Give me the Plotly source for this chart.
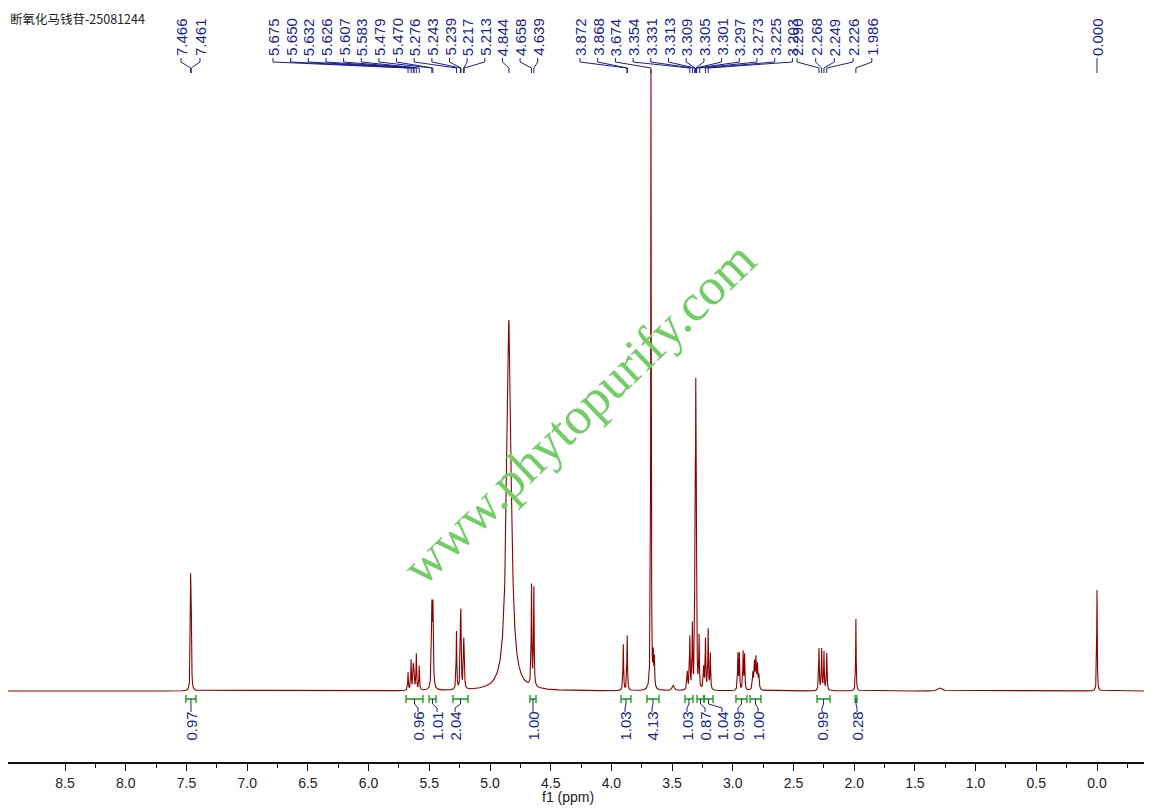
import numpy as np
import plotly.graph_objects as go

# ---------------- data ----------------
title_text = "断氧化马钱苷-25081244"

# spectrum lines: chemical shift (ppm), height (a.u.), half width (ppm)
peak_ppm = [7.466, 7.461,
            5.675, 5.650, 5.632, 5.626, 5.607, 5.583,
            5.479, 5.470,
            5.276, 5.243, 5.239, 5.217, 5.213,
            4.844,
            4.658, 4.639,
            3.902, 3.870,
            3.674, 3.655, 3.646,
            3.49,
            3.375, 3.354, 3.333, 3.313, 3.309, 3.305, 3.301, 3.297,
            3.278, 3.240, 3.225, 3.203, 3.185,
            2.958, 2.946, 2.915, 2.903,
            2.835, 2.822, 2.810, 2.797, 2.785,
            2.290, 2.268, 2.249, 2.226,
            1.986, 1.29, 0.000]
peak_height = [98, 98,
               18, 30, 22, 20, 36, 24,
               78, 78,
               58, 57, 57, 36, 36,
               371,
               100, 98,
               46, 55,
               620, 30, 28,
               5,
               18, 52, 64, 78, 155, 240, 155, 78,
               52, 22, 50, 60, 36,
               36, 36, 38, 35,
               16, 26, 30, 24, 14,
               42, 41, 38, 37,
               72, 3, 101]
peak_hwhm = [0.0025, 0.0025,
             0.003, 0.003, 0.003, 0.003, 0.003, 0.003,
             0.004, 0.004,
             0.003, 0.003, 0.003, 0.003, 0.003,
             0.022,
             0.003, 0.003,
             0.003, 0.003,
             0.0025, 0.003, 0.003,
             0.01,
             0.004, 0.003, 0.003, 0.002, 0.002, 0.002, 0.002, 0.002,
             0.003, 0.004, 0.003, 0.003, 0.003,
             0.003, 0.003, 0.003, 0.003,
             0.004, 0.004, 0.004, 0.004, 0.004,
             0.003, 0.003, 0.003, 0.003,
             0.0025, 0.02, 0.0025]

# peak picking labels (ppm)
label_ppm = [7.466, 7.461,
             5.675, 5.650, 5.632, 5.626, 5.607, 5.583, 5.479, 5.470,
             5.276, 5.243, 5.239, 5.217, 5.213, 4.844, 4.658, 4.639,
             3.872, 3.868, 3.674, 3.354, 3.331, 3.313, 3.309, 3.305,
             3.301, 3.297, 3.273, 3.225, 3.203,
             2.290, 2.268, 2.249, 2.226, 1.986,
             0.000]

# integrals
integral_start = [7.505, 5.692, 5.502, 5.305, 4.671, 3.921, 3.707, 3.394,
                  3.295, 3.237, 2.974, 2.858, 2.306, 1.993]
integral_end = [7.422, 5.552, 5.445, 5.181, 4.621, 3.839, 3.608, 3.328,
                3.237, 3.163, 2.883, 2.768, 2.199, 1.977]
integral_value = ["0.97", "0.96", "1.01", "2.04", "1.00", "1.03", "4.13",
                  "1.03", "0.87", "1.04", "0.99", "1.00", "0.99", "0.28"]

tick_vals = [8.5, 8.0, 7.5, 7.0, 6.5, 6.0, 5.5, 5.0, 4.5, 4.0, 3.5, 3.0,
             2.5, 2.0, 1.5, 1.0, 0.5, 0.0]
tick_text = ["8.5", "8.0", "7.5", "7.0", "6.5", "6.0", "5.5", "5.0", "4.5",
             "4.0", "3.5", "3.0", "2.5", "2.0", "1.5", "1.0", "0.5", "0.0"]

# ---------------- layout helpers (reference-pixel based) ----------------
OFF = 8                      # page body margin in browser
W, H = 1152 - 2 * OFF, 811 - OFF
PX0 = 1097.0                 # reference column of 0 ppm
PXPP = 121.4                 # pixels per ppm
PL, PR = 8, 1144             # plot area left/right (reference px)
PT, AXIS_PX = 8, 762         # plot area top / axis line (reference px)
BASE_PX = 691                # baseline row (reference px)


def px2ppm(px):
    return (PX0 - px) / PXPP


def yd(py):
    return BASE_PX - py


def xpaper(px):
    return (px - PL) / (PR - PL)


def ypaper(py):
    return (AXIS_PX - py) / (AXIS_PX - PT)


# label layout (reference pixel columns)
label_px = ([181, 200]
            + [273 + 17.65 * i for i in range(16)]
            + [580 + 17.7 * i for i in range(13)]
            + [797 + 18.7 * i for i in range(5)]
            + [1097])
int_label_px = [191, 418, 437, 455, 533, 625, 652, 687, 705, 722, 738, 758,
                822, 857]

# ---------------- spectrum ----------------
x = np.arange(-0.40, 9.0, 0.0005)
y = np.zeros_like(x)
for p, h, w in zip(peak_ppm, peak_height, peak_hwhm):
    y += h / (1.0 + ((x - p) / w) ** 2)

fig = go.Figure()
fig.add_trace(go.Scatter(x=np.round(x, 4), y=np.round(y, 2), mode="lines",
                         line=dict(color="#8b0000", width=1.1),
                         hoverinfo="skip", showlegend=False))

shapes = []
annotations = []
NAVY = "#1e1e8c"
GREEN = "#139a13"

# peak labels + tree lines
for v, lp in zip(label_ppm, label_px):
    xl = px2ppm(lp)
    annotations.append(dict(x=xl, y=yd(57), xref="x", yref="y",
                            text=f"{v:.3f}", textangle=-90, showarrow=False,
                            xanchor="center", yanchor="bottom",
                            font=dict(family="Liberation Sans", size=15,
                                      color=NAVY),
                            borderpad=0))
    path = (f"M {xl},{yd(58)} L {xl},{yd(62)} L {v},{yd(68)} "
            f"L {v},{yd(73)}")
    shapes.append(dict(type="path", path=path, xref="x", yref="y",
                       line=dict(color=NAVY, width=1)))

# integrals
for s, e, val, lp in zip(integral_start, integral_end, integral_value,
                         int_label_px):
    gp = (f"M {s},{yd(695)} L {s},{yd(703)} M {s},{yd(699)} L {e},{yd(699)} "
          f"M {e},{yd(695)} L {e},{yd(703)}")
    shapes.append(dict(type="path", path=gp, xref="x", yref="y",
                       line=dict(color=GREEN, width=1.3)))
    xc = (s + e) / 2
    xl = px2ppm(lp)
    cp = (f"M {xc},{yd(699)} L {xc},{yd(704)} L {xl},{yd(708)} "
          f"L {xl},{yd(712)}")
    shapes.append(dict(type="path", path=cp, xref="x", yref="y",
                       line=dict(color=NAVY, width=1)))
    annotations.append(dict(x=xl, y=yd(711), xref="x", yref="y", text=val,
                            textangle=-90, showarrow=False, xanchor="center",
                            yanchor="top", borderpad=0,
                            font=dict(family="Liberation Sans", size=15,
                                      color=NAVY)))

# watermark
annotations.append(dict(x=px2ppm(578), y=yd(413), xref="x", yref="y",
                        text="www.phytopurify.com", textangle=-44,
                        showarrow=False, xanchor="center", yanchor="middle",
                        font=dict(family="Liberation Serif", size=52,
                                  color="rgb(112,206,100)")))

# title
annotations.append(dict(x=xpaper(8), y=ypaper(18), xref="paper", yref="paper",
                        text=title_text, showarrow=False, xanchor="left",
                        yanchor="middle",
                        font=dict(family="Noto Sans CJK SC", size=12.5,
                                  color="#222222")))

# axis title
annotations.append(dict(x=xpaper(568), y=ypaper(797),
                        xref="paper", yref="paper", text="f1 (ppm)",
                        showarrow=False, xanchor="center", yanchor="middle",
                        font=dict(family="Liberation Sans", size=14,
                                  color="#222222")))

fig.update_layout(
    width=W, height=H,
    margin=dict(l=PL - OFF, r=(W + OFF) - PR, t=PT - OFF,
                b=(H + OFF) - AXIS_PX, pad=0),
    paper_bgcolor="white", plot_bgcolor="white",
    showlegend=False, hovermode=False,
    shapes=shapes, annotations=annotations,
    xaxis=dict(range=[px2ppm(PL), px2ppm(PR)], showgrid=False, zeroline=False,
               showline=True, linecolor="#111111", linewidth=1.5,
               ticks="outside", ticklen=7, tickwidth=1.3, tickcolor="#111111",
               tickvals=tick_vals, ticktext=tick_text,
               tickfont=dict(family="Liberation Sans", size=14,
                             color="#222222"),
               minor=dict(tickvals=[v - 0.25 for v in tick_vals] + [-0.25],
                          ticks="outside", ticklen=4, tickwidth=1.2,
                          tickcolor="#111111"),
               fixedrange=True),
    yaxis=dict(range=[yd(AXIS_PX), yd(PT)], visible=False, showgrid=False,
               zeroline=False, fixedrange=True),
)

fig.write_html("out.html")
